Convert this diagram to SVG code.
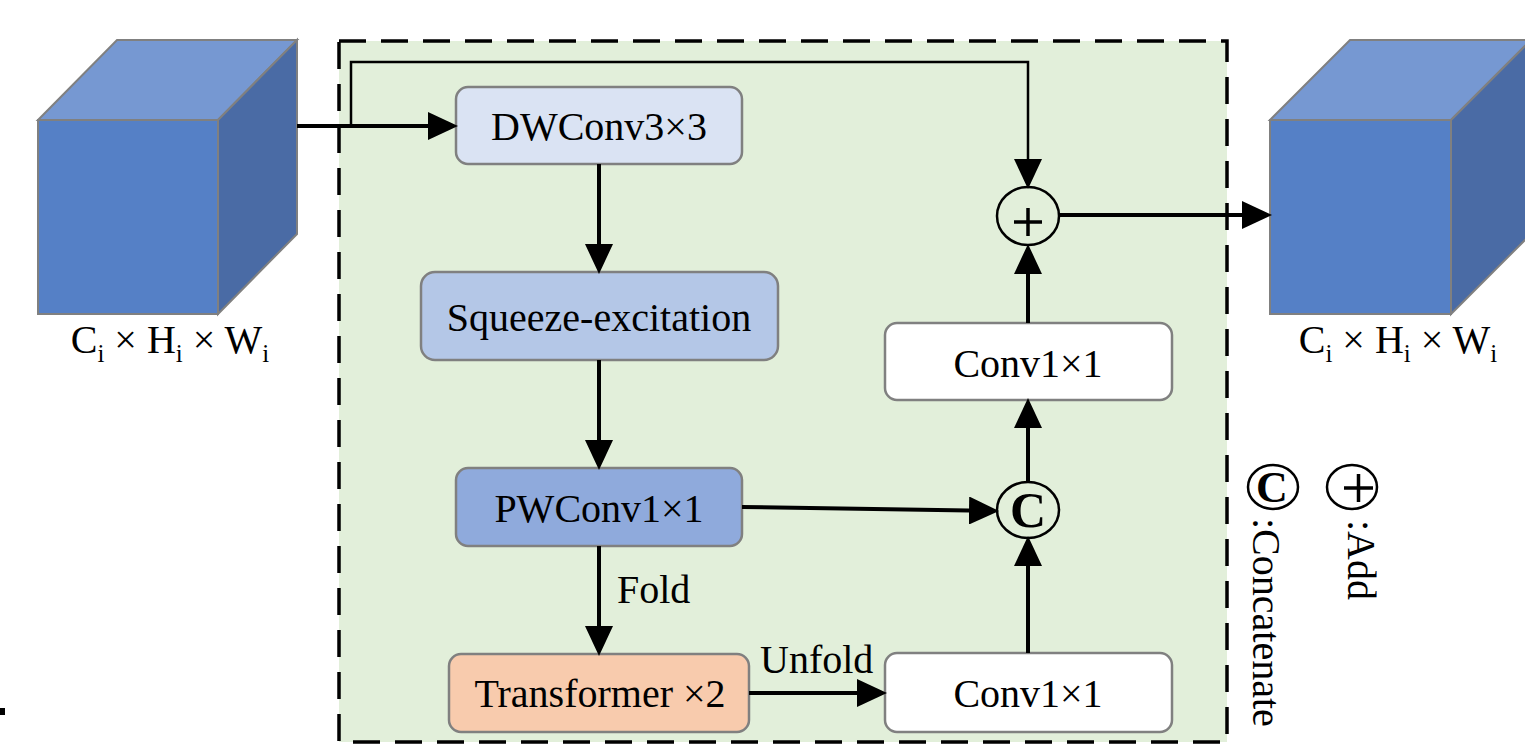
<svg xmlns="http://www.w3.org/2000/svg" width="1525" height="745" viewBox="0 0 1525 745">
<defs>
<style>
.t{font-family:"Liberation Serif","Times New Roman",serif;font-size:40px;fill:#000}
.box{stroke:#808080;stroke-width:2.5}
.ln{fill:none;stroke:#000;stroke-width:4}
.thin{fill:none;stroke:#000;stroke-width:2.5}
.front{fill:#5580C6;stroke:#808080;stroke-width:2}
.top{fill:#7698D2;stroke:#808080;stroke-width:2}
.side{fill:#4A6BA5;stroke:#808080;stroke-width:2}
.circ{fill:none;stroke:#000;stroke-width:2.5}
</style>
<marker id="ah" markerUnits="userSpaceOnUse" markerWidth="30" markerHeight="28" refX="0" refY="14" orient="auto" viewBox="0 0 30 28">
<path d="M0,0 L30,14 L0,28 z" fill="#000"/>
</marker>
</defs>
<rect width="1525" height="745" fill="#fff"/>
<rect x="0" y="708" width="5" height="7" fill="#000"/>

<g id="block">
<rect x="339" y="41" width="888" height="701" fill="#E2EFDA" stroke="#000" stroke-width="3.5" stroke-dasharray="27 15"/>
</g>

<g id="input-cube">
<polygon class="top" points="38,120 117,40 297,40 218,120"/>
<polygon class="side" points="218,120 297,40 297,234 218,314"/>
<rect class="front" x="38" y="120" width="180" height="194"/>
<text class="t" x="170" y="353" text-anchor="middle" font-size="35">C<tspan font-size="25" dy="9">i</tspan><tspan dy="-9"> × H</tspan><tspan font-size="25" dy="9">i</tspan><tspan dy="-9"> × W</tspan><tspan font-size="25" dy="9">i</tspan></text>
</g>

<g id="output-cube">
<polygon class="top" points="1270,120 1350,40 1531,40 1451,120"/>
<polygon class="side" points="1451,120 1531,40 1531,234 1451,314"/>
<rect class="front" x="1270" y="120" width="181" height="194"/>
<text class="t" x="1398" y="353" text-anchor="middle" font-size="35">C<tspan font-size="25" dy="9">i</tspan><tspan dy="-9"> × H</tspan><tspan font-size="25" dy="9">i</tspan><tspan dy="-9"> × W</tspan><tspan font-size="25" dy="9">i</tspan></text>
</g>

<g id="dwconv">
<rect class="box" x="456" y="87" width="286" height="77" rx="12" fill="#DAE3F3"/>
<text class="t" x="599" y="140" text-anchor="middle">DWConv3×3</text>
</g>
<g id="se">
<rect class="box" x="421" y="272" width="357" height="88" rx="14" fill="#B4C7E7"/>
<text class="t" x="599" y="331" text-anchor="middle">Squeeze-excitation</text>
</g>
<g id="pwconv">
<rect class="box" x="456" y="468" width="286" height="78" rx="12" fill="#8FAADC"/>
<text class="t" x="599" y="522" text-anchor="middle">PWConv1×1</text>
</g>
<g id="transformer">
<rect class="box" x="449" y="654" width="300" height="78" rx="12" fill="#F8CBAD"/>
<text class="t" x="600" y="707" text-anchor="middle">Transformer ×2</text>
</g>
<g id="conv-bottom">
<rect class="box" x="885" y="653" width="287" height="79" rx="12" fill="#fff"/>
<text class="t" x="1028" y="707" text-anchor="middle">Conv1×1</text>
</g>
<g id="conv-top">
<rect class="box" x="885" y="323" width="287" height="77" rx="12" fill="#fff"/>
<text class="t" x="1028" y="377" text-anchor="middle">Conv1×1</text>
</g>
<g id="concat">
<ellipse class="circ" cx="1028" cy="510" rx="31" ry="28"/>
<text x="1028" y="527" text-anchor="middle" font-family="Liberation Serif, serif" font-weight="bold" font-size="50">C</text>
</g>
<g id="add">
<ellipse class="circ" cx="1028" cy="216" rx="31" ry="29"/>
<path d="M1014,222 H1042 M1028,208 V236" stroke="#000" stroke-width="3.5" fill="none"/>
</g>

<g id="connectors">
<path class="ln" d="M297,126 H428" marker-end="url(#ah)"/>
<path class="thin" d="M351,126 V62 H1028 V159" marker-end="url(#ah)"/>
<path class="ln" d="M599,164 V244" marker-end="url(#ah)"/>
<path class="ln" d="M599,360 V440" marker-end="url(#ah)"/>
<path class="ln" d="M599,546 V626" marker-end="url(#ah)"/>
<path class="ln" d="M749,693 H857" marker-end="url(#ah)"/>
<path class="ln" d="M742,507 L969,510.5" marker-end="url(#ah)"/>
<path class="ln" d="M1028,653 V566" marker-end="url(#ah)"/>
<path class="ln" d="M1028,482 V428" marker-end="url(#ah)"/>
<path class="ln" d="M1028,323 V274" marker-end="url(#ah)"/>
<path class="ln" d="M1059,215 H1242" marker-end="url(#ah)"/>
<text class="t" x="617" y="603">Fold</text>
<text class="t" x="760" y="673">Unfold</text>
</g>

<g id="legend">
<ellipse class="circ" cx="1273" cy="487" rx="25" ry="22"/>
<text x="1272" y="502" text-anchor="middle" font-family="Liberation Serif, serif" font-weight="bold" font-size="44">C</text>
<text class="t" transform="translate(1253,518) rotate(90)">:Concatenate</text>
<ellipse class="circ" cx="1352" cy="487" rx="25" ry="22"/>
<path d="M1344,488 H1373 M1358.5,474 V502" stroke="#000" stroke-width="3.5" fill="none"/>
<text class="t" transform="translate(1348,520) rotate(90)">:Add</text>
</g>
</svg>
